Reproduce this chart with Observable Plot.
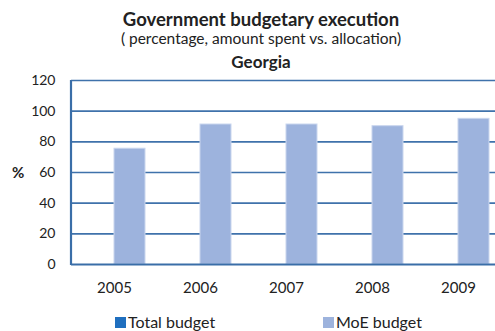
<!DOCTYPE html>
<html><head><meta charset="utf-8">
<script src="https://cdn.jsdelivr.net/npm/d3@7"></script>
<script src="https://cdn.jsdelivr.net/npm/@observablehq/plot@0.6"></script>
<style>
body{margin:0;background:#fff;overflow:hidden}
#c{position:relative;width:495px;height:331px;font-family:Lato,"Open Sans",sans-serif;color:#222}
#c svg{position:absolute;left:0;top:0}
.t{position:absolute;left:0;width:522px;text-align:center;white-space:nowrap;line-height:1}
.lg{position:absolute;top:314px;font-size:16px;line-height:16px;white-space:nowrap}
.sw{display:inline-block;width:11px;height:11px;margin-right:2px;vertical-align:0px}
</style></head><body><div id="c"></div>
<script>
const years = ["2005", "2006", "2007", "2008", "2009"];
const seriesNames = ["Total budget", "MoE budget"];
const totalBudget = [null, null, null, null, null];
const moeBudget = [75.5, 91.3, 91.3, 90.2, 95.0];
const yTicks = [0, 20, 40, 60, 80, 100, 120];
const seriesColors = ["#1f6fbf", "#9db3dd"];
const titleText = "Government budgetary execution";
const subtitleText = "( percentage, amount spent vs. allocation)";
const countryText = "Georgia";
const yLabel = "%";

const data = [];
years.forEach((y, i) => {
  data.push({year: y, series: seriesNames[0], value: totalBudget[i]});
  data.push({year: y, series: seriesNames[1], value: moeBudget[i]});
});

const plot = Plot.plot({
  width: 495, height: 331,
  marginTop: 80, marginBottom: 67, marginLeft: 71, marginRight: 0,
  style: {fontFamily: "Lato, 'Open Sans', sans-serif", fontSize: "14px", color: "#222", background: "transparent"},
  x: {type: "band", domain: years, range: [71, 501], padding: 0},
  y: {domain: [0, 120]},
  color: {domain: seriesNames, range: seriesColors},
  marks: [
    Plot.ruleY(yTicks.filter(d => d > 0), {stroke: "#3f72ab", strokeWidth: 1.6}),
    Plot.barY(data.filter(d => d.series === seriesNames[0] && d.value != null), {x: "year", y: "value", fill: "series", insetLeft: 12, insetRight: 43}),
    Plot.barY(data.filter(d => d.series === seriesNames[1] && d.value != null), {x: "year", y: "value", fill: "series", stroke: "#c9d6ee", strokeWidth: 1, insetLeft: 43, insetRight: 12}),
    Plot.ruleY([0], {stroke: "#3a6ea8", strokeWidth: 2.2}),
    Plot.axisY({ticks: yTicks, tickSize: 0, tickPadding: 16, label: null, fill: "#222"}),
    Plot.axisX({tickSize: 0, tickPadding: 18, label: null, fill: "#222", fontSize: 15})
  ]
});

const xr = plot.scale("x").range, yr = plot.scale("y").range;
d3.select(plot).append("line")
  .attr("x1", xr[0]).attr("x2", xr[0])
  .attr("y1", yr[0] + 1).attr("y2", yr[1])
  .attr("stroke", "#3a6ea8").attr("stroke-width", 2.2);

const c = document.getElementById("c");
c.appendChild(plot);

function addText(txt, top, size, weight, cls) {
  const d = document.createElement("div");
  d.className = cls || "t";
  d.textContent = txt;
  d.style.top = top + "px";
  d.style.fontSize = size + "px";
  d.style.fontWeight = weight;
  c.appendChild(d);
  return d;
}
addText(titleText, 10, 18.5, "bold");
addText(subtitleText, 31, 15.5, "normal");
addText(countryText, 53, 17, "bold");
const yl = addText(yLabel, 164, 15, "bold", "lg");
yl.style.left = "12px";

const legX = [115, 323];
seriesNames.forEach((s, i) => {
  const d = document.createElement("div");
  d.className = "lg";
  d.style.left = legX[i] + "px";
  d.innerHTML = `<span class="sw" style="background:${seriesColors[i]}"></span>`;
  d.appendChild(document.createTextNode(s));
  c.appendChild(d);
});
</script></body></html>
